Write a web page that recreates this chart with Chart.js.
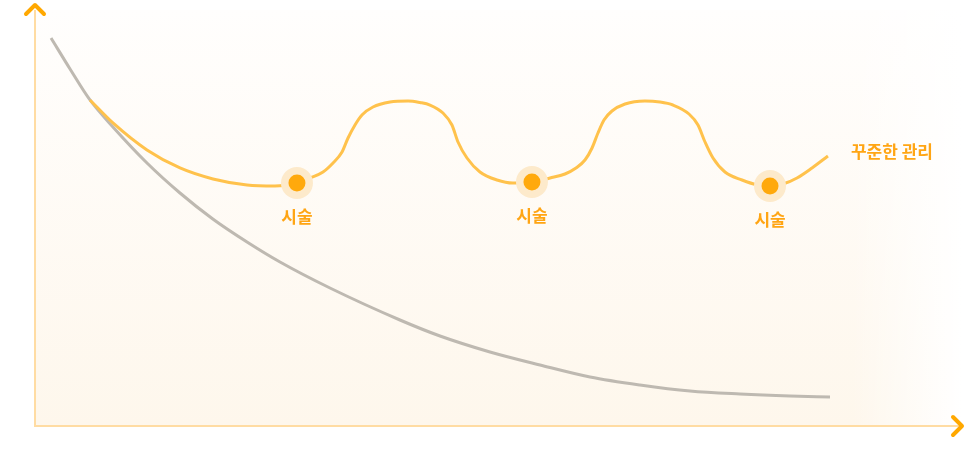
<!DOCTYPE html>
<html lang="ko">
<head>
<meta charset="utf-8">
<script src="https://cdn.jsdelivr.net/npm/chart.js@4"></script>
<style>
  html, body { margin: 0; padding: 0; background: #ffffff; }
  #wrap { width: 968px; height: 466px; position: relative; }
</style>
</head>
<body>
<div id="wrap"><canvas id="c" width="968" height="466"></canvas></div>
<script>
// ---- data (x = time 0..100, y = condition 0..100) ----
const naturalX = [1.73, 3.78, 5.93, 8.41, 12.08, 15.64, 19.18, 22.87, 26.43, 31.82, 39.37, 43.69, 49.08, 54.48, 59.87, 65.26, 70.66, 76.05, 81.45, 85.76];
const naturalY = [93.27, 85.82, 78.37, 71.88, 63.22, 56.01, 49.76, 44.23, 39.42, 33.17, 25.48, 21.63, 17.79, 14.66, 11.78, 9.86, 8.41, 7.69, 7.21, 6.97];

const careX = [5.93, 8.41, 12.08, 15.64, 19.20, 22.87, 25.89, 28.26, 29.67, 31.07, 32.15, 33.12, 33.77, 34.52, 35.27, 36.46, 38.30, 40.24, 41.53, 42.61, 44.01, 44.98, 45.63, 46.60, 48.00, 49.84, 51.56, 53.61, 55.56, 57.17, 58.36, 59.33, 60.09, 60.73, 61.38, 62.24, 63.65, 65.80, 67.42, 68.82, 70.55, 71.52, 72.28, 73.14, 74.43, 76.27, 78.00, 79.29, 80.69, 82.20, 83.82, 85.54];
const careY = [78.37, 72.84, 66.35, 62.02, 59.38, 57.93, 57.69, 58.41, 59.62, 61.06, 63.22, 65.87, 69.23, 72.36, 74.76, 76.68, 77.88, 78.13, 77.76, 77.16, 75.24, 72.36, 68.27, 64.42, 61.06, 59.13, 58.41, 58.65, 59.62, 60.58, 62.02, 63.94, 66.83, 70.43, 73.56, 75.72, 77.40, 78.13, 77.88, 77.16, 75.00, 72.36, 68.27, 64.42, 61.06, 59.13, 57.93, 57.69, 58.17, 59.62, 62.02, 64.90];

const procedureX = [28.26, 53.61, 79.29];
const procedureY = [58.41, 58.65, 57.69];
const procedureLabels = ['시술', '시술', '시술'];

const careSeriesLabel = '꾸준한 관리';
const naturalSeriesLabel = '자연 노화';

// ---- helpers ----
const toPoints = (xs, ys) => xs.map((x, i) => ({ x: x, y: ys[i] }));

const ORANGE = '#FFA90C';
const LINE_ORANGE = '#FFC24C';
const GRAY = '#BEB9B1';
const LABEL_ORANGE = '#FFA514';
const FONT = '"Noto Sans CJK KR", "Noto Sans", sans-serif';

const backgroundPlugin = {
  id: 'bgFill',
  beforeDraw(chart) {
    const { ctx, chartArea: a } = chart;
    ctx.save();
    const g = ctx.createLinearGradient(0, a.top, 0, a.bottom);
    g.addColorStop(0, '#FFFEFD');
    g.addColorStop(1, '#FEF7EC');
    ctx.fillStyle = g;
    ctx.fillRect(a.left, a.top, a.right - a.left, a.bottom - a.top);
    const h = ctx.createLinearGradient(a.right - 110, 0, a.right, 0);
    h.addColorStop(0, 'rgba(255,255,255,0)');
    h.addColorStop(1, 'rgba(255,255,255,1)');
    ctx.fillStyle = h;
    ctx.fillRect(a.right - 110, a.top, 110, a.bottom - a.top);
    ctx.restore();
  }
};

const axesPlugin = {
  id: 'arrowAxes',
  beforeDatasetsDraw(chart) {
    const { ctx, chartArea: a } = chart;
    ctx.save();
    ctx.strokeStyle = '#FFDCA3';
    ctx.lineWidth = 2;
    ctx.beginPath();
    ctx.moveTo(a.left, a.top);
    ctx.lineTo(a.left, a.bottom);
    ctx.lineTo(a.right, a.bottom);
    ctx.stroke();
    ctx.strokeStyle = '#FFA800';
    ctx.lineWidth = 4;
    ctx.lineCap = 'round';
    ctx.lineJoin = 'round';
    ctx.beginPath();
    ctx.moveTo(a.left - 9, a.top + 4);
    ctx.lineTo(a.left, a.top - 5);
    ctx.lineTo(a.left + 9, a.top + 4);
    ctx.stroke();
    ctx.beginPath();
    ctx.moveTo(a.right - 9, a.bottom - 9);
    ctx.lineTo(a.right, a.bottom);
    ctx.lineTo(a.right - 9, a.bottom + 9);
    ctx.stroke();
    ctx.restore();
  }
};

const labelPlugin = {
  id: 'textLabels',
  afterDraw(chart) {
    const { ctx } = chart;
    ctx.save();
    ctx.font = '700 17px ' + FONT;
    ctx.fillStyle = LABEL_ORANGE;
    ctx.textBaseline = 'middle';
    ctx.textAlign = 'center';
    const dotMeta = chart.getDatasetMeta(3);
    dotMeta.data.forEach((pt, i) => {
      ctx.fillText(procedureLabels[i], pt.x, pt.y + 34);
    });
    const careMeta = chart.getDatasetMeta(1);
    const last = careMeta.data[careMeta.data.length - 1];
    ctx.textAlign = 'left';
    ctx.fillText(careSeriesLabel, last.x + 23, last.y - 4);
    ctx.restore();
  }
};

new Chart(document.getElementById('c'), {
  type: 'line',
  data: {
    datasets: [
      {
        label: naturalSeriesLabel,
        data: toPoints(naturalX, naturalY),
        borderColor: GRAY,
        borderWidth: 3,
        pointRadius: 0,
        cubicInterpolationMode: 'monotone',
        fill: false,
        order: 4
      },
      {
        label: careSeriesLabel,
        data: toPoints(careX, careY),
        borderColor: LINE_ORANGE,
        borderWidth: 3,
        pointRadius: 0,
        cubicInterpolationMode: 'monotone',
        fill: false,
        order: 3
      },
      {
        label: 'halo',
        data: toPoints(procedureX, procedureY),
        showLine: false,
        pointRadius: 16,
        pointBackgroundColor: '#FDEACB',
        pointBorderWidth: 0,
        order: 2
      },
      {
        label: 'procedure',
        data: toPoints(procedureX, procedureY),
        showLine: false,
        pointRadius: 8.5,
        pointBackgroundColor: ORANGE,
        pointBorderWidth: 0,
        order: 1
      }
    ]
  },
  options: {
    responsive: false,
    animation: false,
    layout: { autoPadding: false, padding: { left: 35, right: 6, top: 10, bottom: 40 } },
    plugins: { legend: { display: false }, tooltip: { enabled: false } },
    scales: {
      x: { type: 'linear', min: 0, max: 100, display: false },
      y: { type: 'linear', min: 0, max: 100, display: false }
    }
  },
  plugins: [backgroundPlugin, axesPlugin, labelPlugin]
});
</script>
</body>
</html>
